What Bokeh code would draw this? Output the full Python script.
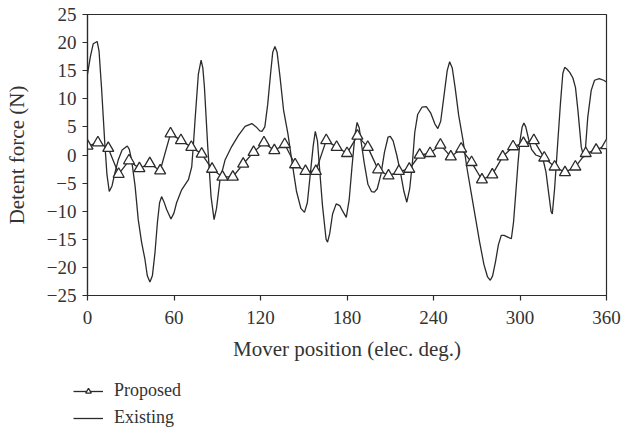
from bokeh.plotting import figure
from bokeh.layouts import column
from bokeh.models import Range1d, Legend, LegendItem, FixedTicker, ColumnDataSource
from bokeh.embed import file_html
from bokeh.resources import INLINE

# Proposed design: detent force sampled every 7.2 electrical degrees
proposed_pos = [round(7.2 * k, 1) for k in range(51)]
proposed_force = [
    1.6, 2.2, 1.2, -3.4, -1.0, -2.4, -1.5, -2.8, 3.8, 2.6,
    1.4, 0.2, -2.5, -3.9, -3.9, -1.6, 0.5, 2.2, 0.8, 1.9,
    -1.7, -2.9, -2.9, 2.6, 1.4, 0.3, 3.4, 1.4, -2.6, -3.7,
    -2.9, -2.5, 0.0, 0.3, 1.8, -0.3, 1.1, -1.3, -4.4, -3.5,
    -0.3, 1.5, 2.1, 2.6, -0.5, -2.1, -3.1, -2.1, 0.3, 0.9,
    1.7,
]

# Existing design: detent force trace
existing_pos = [
    0, 2, 4, 6.7, 8, 9.7, 12, 13.5, 15.1, 17, 19, 21.3, 24, 27.6, 29, 30.6,
    33, 35.2, 37.5, 39.8, 41.5, 43.3, 45, 46.8, 48.5, 50, 51.4, 53, 54.9,
    57.9, 60, 61.8, 65.3, 70, 72.3, 73.5, 74.6, 76.9, 78.8, 80, 81.1, 83.4,
    85.7, 87.8, 89.5, 91.9, 95.4, 100, 104.7, 109.3, 114, 117, 119.5, 121,
    123, 125, 127, 128.5, 130, 131.5, 133.5, 136, 139, 142, 145, 148, 150.5,
    152.5, 154.5, 156.5, 158, 159.5, 161, 163, 165.5, 166.5, 168, 170, 172.5,
    175, 177, 179.5, 181.5, 183.5, 185.5, 187, 188.5, 190, 192, 194.5, 197,
    199, 201, 203.5, 206, 208.5, 210, 212, 214.5, 217, 219.5, 221.5, 223.5,
    225.5, 227, 229, 232, 235, 238, 241, 243, 245, 247, 249.5, 251.2, 253,
    255, 257.5, 260.5, 263, 266, 269, 272, 275, 277.5, 279.4, 281, 283, 285,
    287, 289, 291.5, 294, 295.5, 297, 298.6, 300, 301.5, 302.7, 304, 306,
    308, 311, 314, 316, 318, 320, 321.5, 322.4, 324, 326, 328, 329.7, 331,
    332.5, 334.5, 336.7, 338.5, 340.2, 342.5, 344.3, 345.5, 347, 349.4,
    351.7, 355, 358, 360,
]
existing_force = [
    14.4, 17.5, 19.8, 20.2, 18.5, 12.1, 2.1, -3.5, -6.5, -5.5, -3.2, -0.9,
    0.9, 1.6, 1.0, -0.9, -5.5, -11.5, -15.5, -18.5, -21.5, -22.6, -21.5,
    -17.4, -12.0, -8.5, -7.4, -8.3, -9.7, -11.4, -10.3, -8.5, -6.2, -4.4,
    -2.1, 2.0, 6.2, 14.4, 16.9, 15.5, 12.1, 1.5, -7.4, -11.5, -9.5, -4.4,
    -0.9, 1.5, 3.5, 5.1, 5.6, 5.0, 4.3, 4.2, 5.0,
    9.0, 14.5, 18.3, 19.3, 18.3, 14.0, 8.0, 3.8, -1.5, -6.5, -9.5, -10.2,
    -8.5, -3.5, 1.5, 4.2, 2.5, -2.5, -9.0, -15.0, -15.5, -14.0, -10.5, -8.7,
    -9.0, -10.0, -11.1, -8.0, -2.0, 3.5, 5.8, 4.8, 2.0, -1.5, -5.2, -6.5,
    -6.6, -6.0, -3.5, 0.5, 3.2, 3.3, 2.5, 0.0, -3.0, -6.5, -8.4, -6.0, -1.0,
    4.0, 7.2, 8.5, 8.6, 7.5, 5.5, 4.7, 6.0, 10.0, 15.0, 16.6, 15.5, 12.0,
    7.0, 2.6, -2.0, -6.5, -11.0, -15.5, -19.5, -21.7, -22.3, -21.5, -19.0,
    -16.0, -14.3, -14.3, -14.6, -14.9, -12.0, -7.0, -1.5, 2.5, 5.0, 5.7,
    5.0, 2.8, 1.0, 0.0, -0.3, -0.8, -3.0, -7.0, -10.0, -10.5, -6.0, 1.5,
    9.0, 14.5, 15.6, 15.3, 14.7, 13.7, 12.0, 7.9, 1.4, -0.4, 1.5, 6.7, 11.5,
    13.3, 13.6, 13.3, 13.0,
]

x_ticks = [0, 60, 120, 180, 240, 300, 360]
y_ticks = [-25, -20, -15, -10, -5, 0, 5, 10, 15, 20, 25]
series_names = ["Proposed", "Existing"]

FONT = "Liberation Serif"
INK = "#2b2b2b"
TEXT = "#333333"

# main chart
p = figure(
    width=623, height=370,
    output_backend="svg", toolbar_location=None,
    x_range=Range1d(0, 360), y_range=Range1d(-25, 25),
    min_border_left=87, min_border_right=17,
    min_border_top=14, min_border_bottom=75,
)
p.grid.visible = False
p.outline_line_color = INK
p.outline_line_width = 1.2
p.border_fill_color = "white"

for ax in (p.xaxis[0], p.yaxis[0]):
    ax.axis_line_color = INK
    ax.axis_line_width = 1.2
    ax.major_tick_line_color = INK
    ax.major_tick_line_width = 1.2
    ax.major_tick_in = 0
    ax.major_tick_out = 5
    ax.minor_tick_line_color = None
    ax.major_label_text_font = FONT
    ax.major_label_text_font_size = "19px"
    ax.major_label_text_color = TEXT
    ax.axis_label_text_font = FONT
    ax.axis_label_text_font_size = "21px"
    ax.axis_label_text_font_style = "normal"
    ax.axis_label_text_color = TEXT

p.xaxis.ticker = FixedTicker(ticks=x_ticks)
p.yaxis.ticker = FixedTicker(ticks=y_ticks)
p.yaxis.major_label_overrides = {
    t: (("\u2212" + str(-t)) if t < 0 else str(t)) for t in y_ticks
}
p.xaxis.axis_label = "Mover position (elec. deg.)"
p.yaxis.axis_label = "Detent force (N)"
p.xaxis.major_label_standoff = 10
p.xaxis.axis_label_standoff = 10
p.yaxis.major_label_standoff = 6
p.yaxis.axis_label_standoff = 15

existing_src = ColumnDataSource(dict(x=existing_pos, y=existing_force))
proposed_src = ColumnDataSource(dict(x=proposed_pos, y=proposed_force))

line_style = dict(line_color=INK, line_width=1.3)
marker_style = dict(marker="triangle", size=11, fill_color="white",
                    line_color=INK, line_width=1.3)

p.line("x", "y", source=existing_src, **line_style)
p.line("x", "y", source=proposed_src, **line_style)
p.scatter("x", "y", source=proposed_src, **marker_style)

# legend strip under the chart; its ranges keep the series out of view,
# only the legend entries are shown. Nudged left so the key starts a
# little before the y axis.
key = figure(
    width=623, height=64,
    output_backend="svg", toolbar_location=None,
    x_axis_location=None, y_axis_location=None,
    x_range=Range1d(1000, 1001), y_range=Range1d(1000, 1001),
    min_border_left=0, min_border_right=0,
    min_border_top=0, min_border_bottom=0,
    styles={"position": "relative", "left": "-14px"},
)
key.grid.visible = False
key.outline_line_color = None
k_prop_line = key.line("x", "y", source=proposed_src, **line_style)
k_prop_mark = key.scatter("x", "y", source=proposed_src, **marker_style)
k_exist = key.line("x", "y", source=existing_src, **line_style)

legend = Legend(
    items=[
        LegendItem(label=series_names[0], renderers=[k_prop_line, k_prop_mark]),
        LegendItem(label=series_names[1], renderers=[k_exist]),
    ],
    location=(0, 6),
    orientation="vertical",
    border_line_color=None,
    background_fill_alpha=0,
    padding=0, margin=0, spacing=6,
    glyph_width=30, glyph_height=14,
    label_height=20, label_standoff=11,
    label_text_font=FONT, label_text_font_size="18px", label_text_color=TEXT,
)
key.add_layout(legend)

open("out.html", "w").write(file_html(column(p, key), INLINE))
